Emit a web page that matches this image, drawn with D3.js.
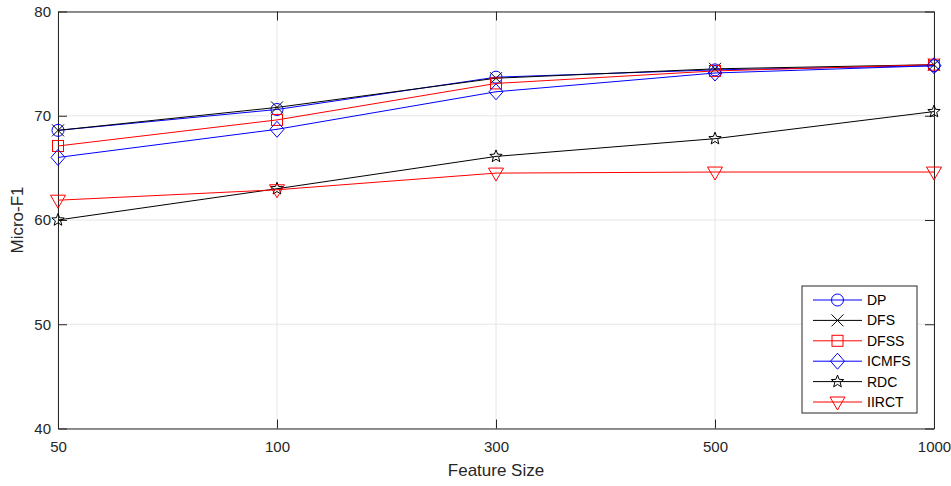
<!DOCTYPE html>
<html><head><meta charset="utf-8">
<script src="https://cdn.jsdelivr.net/npm/d3@7"></script>
<style>body{margin:0;background:#fff;} svg{display:block;} text{font-family:"Liberation Sans",Arial,sans-serif;}</style>
</head><body><svg id="c" width="951" height="486"></svg>
<script>
const categories = ["50","100","300","500","1000"];
const yTicks = [40,50,60,70,80];
const seriesNames = ["DP","DFS","DFSS","ICMFS","RDC","IIRCT"];
const DP    = [68.6, 70.6, 73.7, 74.4, 74.8];
const DFS   = [68.6, 70.8, 73.6, 74.5, 74.9];
const DFSS  = [67.1, 69.6, 73.1, 74.3, 74.9];
const ICMFS = [66.0, 68.7, 72.3, 74.1, 74.8];
const RDC   = [60.0, 63.0, 66.1, 67.8, 70.4];
const IIRCT = [61.9, 62.9, 64.5, 64.6, 64.6];
const seriesValues = [DP, DFS, DFSS, ICMFS, RDC, IIRCT];
const seriesColors = ["#0000ff","#000000","#ff0000","#0000ff","#000000","#ff0000"];
const seriesMarkers = ["circle","x","square","diamond","star","triangleDown"];

const L=58, R=934, T=11.5, B=428.5;
const svg = d3.select("#c");
const x = d3.scalePoint().domain(categories).range([L,R]);
const y = d3.scaleLinear().domain([40,80]).range([B,T]);
const axisCol = "#262626";

// grid
svg.append("g").selectAll("line").data(categories).join("line")
  .attr("x1",d=>x(d)).attr("x2",d=>x(d)).attr("y1",T).attr("y2",B)
  .attr("stroke","#e6e6e6").attr("stroke-width",1);
svg.append("g").selectAll("line").data(yTicks).join("line")
  .attr("x1",L).attr("x2",R).attr("y1",d=>y(d)).attr("y2",d=>y(d))
  .attr("stroke","#e6e6e6").attr("stroke-width",1);

// axes
const tl = 9;
const xb = svg.append("g").attr("transform",`translate(0,${B})`)
  .call(d3.axisBottom(x).tickSizeInner(-tl).tickSizeOuter(0).tickPadding(13));
const xt = svg.append("g").attr("transform",`translate(0,${T})`)
  .call(d3.axisTop(x).tickSizeInner(-tl).tickSizeOuter(0).tickFormat(""));
const yl = svg.append("g").attr("transform",`translate(${L},0)`)
  .call(d3.axisLeft(y).tickValues(yTicks).tickSizeInner(-tl).tickSizeOuter(0).tickPadding(7));
const yr = svg.append("g").attr("transform",`translate(${R},0)`)
  .call(d3.axisRight(y).tickValues(yTicks).tickSizeInner(-tl).tickSizeOuter(0).tickFormat(""));
[xb,xt,yl,yr].forEach(g=>{
  g.select(".domain").attr("stroke",axisCol);
  g.selectAll(".tick line").attr("stroke",axisCol);
  g.selectAll("text").attr("fill",axisCol).style("font-size","15px").style("font-family","'Liberation Sans',Arial,sans-serif");
});

svg.append("text").attr("x",(L+R)/2).attr("y",476).attr("text-anchor","middle")
  .attr("fill",axisCol).style("font-size","17px").text("Feature Size");
svg.append("text").attr("transform",`translate(23,${(T+B)/2}) rotate(-90)`).attr("text-anchor","middle")
  .attr("fill",axisCol).style("font-size","17px").text("Micro-F1");

function drawMarker(g, type, color){
  const s=6;
  if(type==="circle") g.append("circle").attr("r",s).attr("fill","none").attr("stroke",color);
  else if(type==="x") g.append("path").attr("d",`M${-s},${-s}L${s},${s}M${-s},${s}L${s},${-s}`).attr("stroke",color);
  else if(type==="square") g.append("rect").attr("x",-5.5).attr("y",-5.5).attr("width",11).attr("height",11).attr("fill","none").attr("stroke",color);
  else if(type==="diamond") g.append("path").attr("d",`M0,-8L7,0L0,8L-7,0Z`).attr("fill","none").attr("stroke",color);
  else if(type==="star"){
    const pts=[];for(let i=0;i<10;i++){const r=i%2?2.8:6.5;const a=-Math.PI/2+i*Math.PI/5;pts.push([r*Math.cos(a),r*Math.sin(a)]);}
    g.append("path").attr("d","M"+pts.map(p=>p.join(",")).join("L")+"Z").attr("fill","none").attr("stroke",color);
  }
  else if(type==="triangleDown") g.append("path").attr("d",`M-7.5,-5L7.5,-5L0,8Z`).attr("fill","none").attr("stroke",color);
}

const line = d3.line().x((d,i)=>x(categories[i])).y(d=>y(d));
seriesValues.forEach((vals,k)=>{
  const g = svg.append("g");
  g.append("path").datum(vals).attr("d",line).attr("fill","none").attr("stroke",seriesColors[k]).attr("stroke-width",1);
  vals.forEach((v,i)=>{
    const m = g.append("g").attr("transform",`translate(${x(categories[i])},${y(v)})`);
    drawMarker(m, seriesMarkers[k], seriesColors[k]);
  });
});

// legend
const lg = svg.append("g");
lg.append("rect").attr("x",802).attr("y",286).attr("width",115).attr("height",127)
  .attr("fill","#fff").attr("stroke",axisCol).attr("stroke-width",1);
seriesNames.forEach((n,k)=>{
  const yy = 300 + k*20.4;
  lg.append("line").attr("x1",813).attr("x2",862).attr("y1",yy).attr("y2",yy).attr("stroke",seriesColors[k]);
  const m = lg.append("g").attr("transform",`translate(837.5,${yy})`);
  drawMarker(m, seriesMarkers[k], seriesColors[k]);
  lg.append("text").attr("x",867).attr("y",yy).attr("dy","0.35em").attr("fill","#000")
    .style("font-size","14px").text(n);
});
</script></body></html>
